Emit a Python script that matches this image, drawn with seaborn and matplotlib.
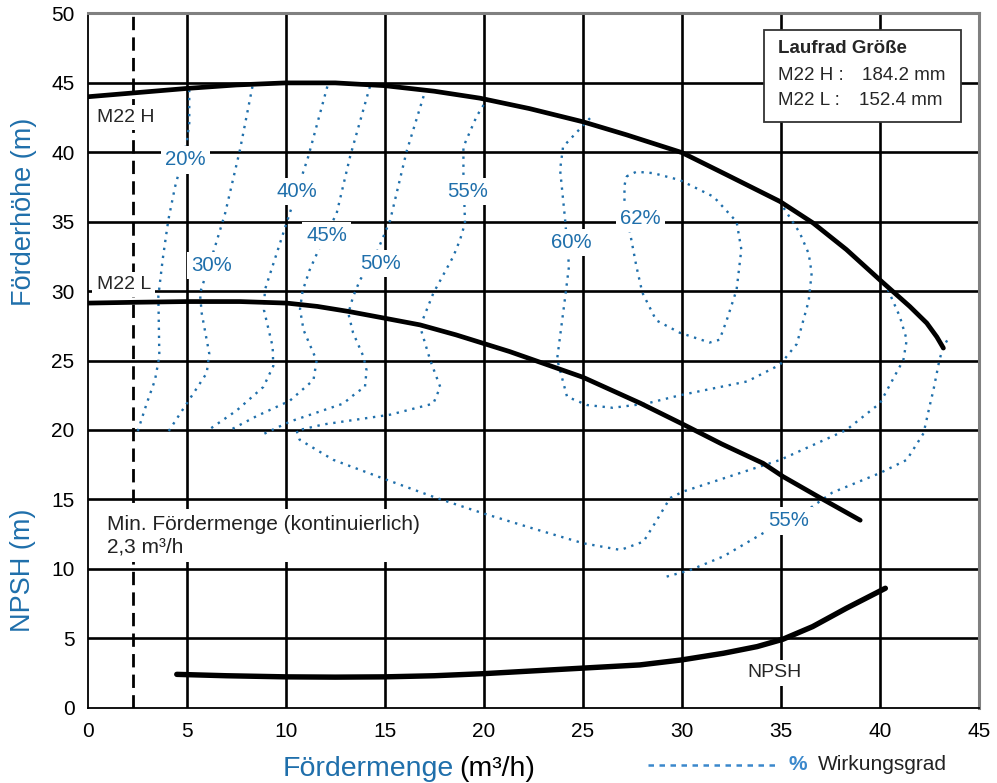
import matplotlib
matplotlib.use("Agg")
import matplotlib.pyplot as plt
from matplotlib.lines import Line2D
from matplotlib.patches import Rectangle
import seaborn as sns

# Kennlinien (Förderhöhe / NPSH ueber Fördermenge)
h_x = [0, 2.5, 5, 7.5, 10, 12.5, 15, 17.5, 19.8, 22.3, 25.0, 27.2, 30.0,
       32.26, 34.95, 36.63, 38.3, 40.0, 41.5, 42.36, 42.87, 43.2]
h_y = [44.0, 44.3, 44.6, 44.85, 45.0, 45.0, 44.8, 44.4, 43.9, 43.15, 42.2,
       41.26, 39.98, 38.38, 36.46, 34.9, 33.0, 30.8, 28.9, 27.7, 26.7, 25.9]

l_x = [0, 2.5, 5, 7.7, 10.05, 11.6, 13.2, 15.0, 16.78, 18.6, 21.3, 25.0, 27.9,
       30.07, 32.0, 34.1, 35.1, 37.0, 39.0]
l_y = [29.14, 29.2, 29.25, 29.25, 29.14, 28.9, 28.53, 28.05, 27.57, 26.85,
       25.65, 23.8, 21.93, 20.4, 19.0, 17.6, 16.65, 15.1, 13.5]

npsh_x = [4.5, 7, 10, 12.5, 15, 17.5, 20, 22.5, 25, 27.88, 29.99, 32.1, 33.8,
          35.1, 36.6, 38.3, 40.27]
npsh_y = [2.4, 2.3, 2.22, 2.2, 2.22, 2.3, 2.45, 2.65, 2.85, 3.08, 3.44, 3.92,
          4.4, 4.93, 5.84, 7.16, 8.6]

q_min = 2.3

# Wirkungsgrad-Linien
eff_lines = {
    "20": ([5.13, 5.13, 5.0, 4.41, 4.07, 3.79, 3.57, 3.62, 3.40, 2.98, 2.48],
           [44.5, 42.1, 40.66, 37.5, 35.1, 32.3, 29.65, 25.3, 23.6, 21.9, 19.7]),
    "30": ([8.32, 7.69, 6.94, 6.43, 5.67, 5.76, 6.14, 6.01, 5.0, 3.99],
           [44.74, 40.18, 35.6, 33.2, 29.85, 28.4, 25.5, 24.1, 21.9, 19.7]),
    "40": ([12.1, 11.14, 9.88, 8.95, 8.90, 9.34, 9.37, 8.87, 7.52, 6.1],
           [44.74, 39.7, 34.2, 30.1, 28.65, 26.0, 24.6, 23.1, 21.4, 20.0]),
    "45": ([14.25, 13.25, 12.57, 11.73, 11.2, 10.85, 10.72, 10.9, 11.56, 11.4,
            10.2, 8.53, 7.2],
           [44.74, 39.7, 35.6, 33.2, 31.5, 30.0, 28.7, 27.2, 25.0, 23.6, 22.1,
            21.0, 20.0]),
    "50": ([17.08, 16.1, 15.27, 14.6, 13.75, 13.4, 13.16, 13.4, 13.92, 14.08,
            14.0, 13.58, 12.9, 10.2, 8.87],
           [44.6, 40.05, 35.1, 32.8, 30.8, 29.6, 28.4, 27.0, 25.3, 24.3, 23.1,
            22.7, 21.9, 20.6, 19.7]),
    "55a": ([20.2, 19.64, 18.97, 18.97, 19.05, 18.8, 18.46, 17.45, 16.78, 17.3,
             17.8, 17.45, 15.26, 11.9, 10.55, 10.7, 12.4, 14.93, 17.62, 19.98,
             22.5, 25.02, 26.9, 28.06, 28.73, 29.4, 30.07, 34.95, 38.3, 40.0,
             41.18, 41.35, 41.0, 40.34],
            [43.9, 42.6, 40.4, 38.5, 34.9, 33.7, 32.5, 29.85, 27.45, 25.0, 23.1,
             21.9, 21.1, 20.4, 19.95, 19.3, 17.85, 16.5, 15.1, 13.99, 12.9,
             11.84, 11.36, 11.96, 13.5, 15.1, 15.57, 17.84, 20.0, 21.93, 25.05,
             26.5, 28.17, 30.3]),
    "55b": ([29.23, 30.4, 32.1, 34.1, 36.3, 37.6, 40.0, 41.35, 42.2, 42.5, 42.7,
             43.0, 43.2, 43.45],
            [9.44, 9.9, 10.9, 12.57, 14.2, 15.5, 16.9, 17.85, 19.77, 21.69, 22.9,
             25.05, 26.0, 26.6]),
    "60": ([25.36, 24.0, 23.85, 24.1, 24.3, 24.1, 23.7, 24.2, 25.2, 26.5, 28.2,
            29.9, 33.3, 34.95, 35.8, 36.4, 36.55, 36.4, 35.95, 35.0],
           [42.46, 40.4, 38.75, 35.2, 31.8, 29.5, 25.1, 22.4, 21.8, 21.6, 21.9,
            22.5, 23.5, 24.7, 26.2, 29.3, 31.3, 32.7, 34.2, 36.3]),
    "62": ([27.2, 27.7, 28.55, 29.9, 31.6, 32.76, 33.0, 32.76, 32.26, 31.9, 31.4,
            29.9, 28.7, 28.0, 27.7, 27.38, 27.1, 27.1, 27.2],
           [38.26, 38.6, 38.5, 38.0, 36.8, 35.0, 33.0, 30.1, 27.9, 26.5, 26.3,
            27.0, 27.9, 29.9, 31.8, 34.2, 36.1, 37.6, 38.26]),
}

eff_labels = ["20%", "30%", "40%", "45%", "50%", "55%", "60%", "62%", "55%"]
eff_label_x = [4.95, 6.23, 10.55, 12.07, 14.8, 19.2, 24.4, 27.9, 35.4]
eff_label_y = [39.45, 31.85, 37.2, 34.0, 32.0, 37.2, 33.5, 35.26, 13.45]

blue = "#1f6fab"
light_blue = "#3a88cc"

sns.set_theme(style="white")
plt.rcParams["font.family"] = ["Liberation Sans", "DejaVu Sans"]

fig = plt.figure(figsize=(9.97, 7.83), dpi=100)
ax = fig.add_axes([0.0879, 0.0962, 0.8941, 0.8866])

# Gitter
for gx in range(5, 45, 5):
    ax.axvline(gx, color="black", lw=1.9, zorder=1)
for gy in range(5, 50, 5):
    ax.axhline(gy, color="black", lw=1.9, zorder=1)

# Mindestfördermenge
ax.axvline(q_min, color="black", lw=2.0, ls=(0, (4.8, 2.6)), zorder=2)

# Wirkungsgrad
for key, (ex, ey) in eff_lines.items():
    sns.lineplot(x=ex, y=ey, ax=ax, sort=False, estimator=None, color=blue,
                 lw=1.7, ls=(0, (1.0, 2.4)), zorder=3)

# Kennlinien
sns.lineplot(x=h_x, y=h_y, ax=ax, sort=False, estimator=None, color="black",
             lw=3.4, zorder=4, solid_capstyle="round", solid_joinstyle="round")
sns.lineplot(x=l_x, y=l_y, ax=ax, sort=False, estimator=None, color="black",
             lw=3.4, zorder=4, solid_capstyle="round", solid_joinstyle="round")
sns.lineplot(x=npsh_x, y=npsh_y, ax=ax, sort=False, estimator=None,
             color="black", lw=3.9, zorder=4, solid_capstyle="round",
             solid_joinstyle="round")

white_box = dict(facecolor="white", edgecolor="none", pad=3)
for lab, lx, ly in zip(eff_labels, eff_label_x, eff_label_y):
    ax.text(lx, ly, lab, color=blue, fontsize=14.7, ha="center", va="center",
            bbox=white_box, zorder=5)

ax.text(0.45, 42.5, "M22 H", fontsize=14, ha="left", va="center",
        bbox=white_box, zorder=5)
ax.text(0.45, 30.5, "M22 L", fontsize=14, ha="left", va="center",
        bbox=white_box, zorder=5)
ax.text(1.0, 12.4, "Min. Fördermenge (kontinuierlich)\n2,3 m³/h", fontsize=15,
        ha="left", va="center", linespacing=1.25, color="#222222",
        bbox=dict(facecolor="white", edgecolor="none", pad=4), zorder=5)
ax.text(34.65, 2.5, "NPSH", fontsize=14, ha="center", va="center",
        bbox=white_box, zorder=5)

# Laufrad-Kasten
ax.add_patch(Rectangle((0.759, 0.844), 0.221, 0.132, transform=ax.transAxes,
                       facecolor="white", edgecolor="#333333", lw=1.3, zorder=6))
ax.text(0.7745, 0.950, "Laufrad Größe", transform=ax.transAxes, fontsize=13.5,
        fontweight="bold", ha="left", va="center", zorder=7)
ax.text(0.7745, 0.911, "M22 H :", transform=ax.transAxes, fontsize=13.5,
        ha="left", va="center", zorder=7)
ax.text(0.962, 0.911, "184.2 mm", transform=ax.transAxes, fontsize=13.5,
        ha="right", va="center", zorder=7)
ax.text(0.7745, 0.875, "M22 L :", transform=ax.transAxes, fontsize=13.5,
        ha="left", va="center", zorder=7)
ax.text(0.959, 0.875, "152.4 mm", transform=ax.transAxes, fontsize=13.5,
        ha="right", va="center", zorder=7)

# Achsen
ax.set_xlim(0, 45)
ax.set_ylim(0, 50)
ax.set_xticks(range(0, 46, 5))
ax.set_yticks(range(0, 51, 5))
ax.set_xticks(range(0, 46), minor=True)
ax.set_yticks(range(0, 51), minor=True)
ax.tick_params(which="both", direction="inout", length=7, width=1.1,
               color="black", labelsize=15, labelcolor="black")
ax.tick_params(axis="y", pad=6)
ax.tick_params(axis="x", pad=7)
ax.set_xlabel("")
ax.set_ylabel("")
for side in ["left", "bottom"]:
    ax.spines[side].set_color("black")
    ax.spines[side].set_linewidth(1.3)
for side in ["top", "right"]:
    ax.spines[side].set_color("#808080")
    ax.spines[side].set_linewidth(2.2)

# Achsentitel
fig.text(24 / 997, 1 - 212 / 783, "Förderhöhe (m)", rotation=90, color=blue,
         fontsize=19.5, ha="center", va="center")
fig.text(23 / 997, 1 - 570 / 783, "NPSH (m)", rotation=90, color=blue,
         fontsize=19.5, ha="center", va="center")
fig.text(454 / 997, 1 - 776 / 783, "Fördermenge", color=blue, fontsize=20.5,
         ha="right", va="baseline")
fig.text(459 / 997, 1 - 776 / 783, "(m³/h)", color="black", fontsize=20.5,
         ha="left", va="baseline")

# Legende Wirkungsgrad
fig.add_artist(Line2D([648 / 997, 778 / 997], [1 - 765 / 783, 1 - 765 / 783],
                      color=light_blue, lw=1.8, ls=(0, (2.2, 2.2))))
fig.text(788 / 997, 1 - 765 / 783, "%", color=light_blue, fontsize=15,
         fontweight="bold", ha="left", va="center")
fig.text(818 / 997, 1 - 765 / 783, "Wirkungsgrad", color="#222222", fontsize=15,
         ha="left", va="center")

fig.savefig("out.png", dpi=100)
